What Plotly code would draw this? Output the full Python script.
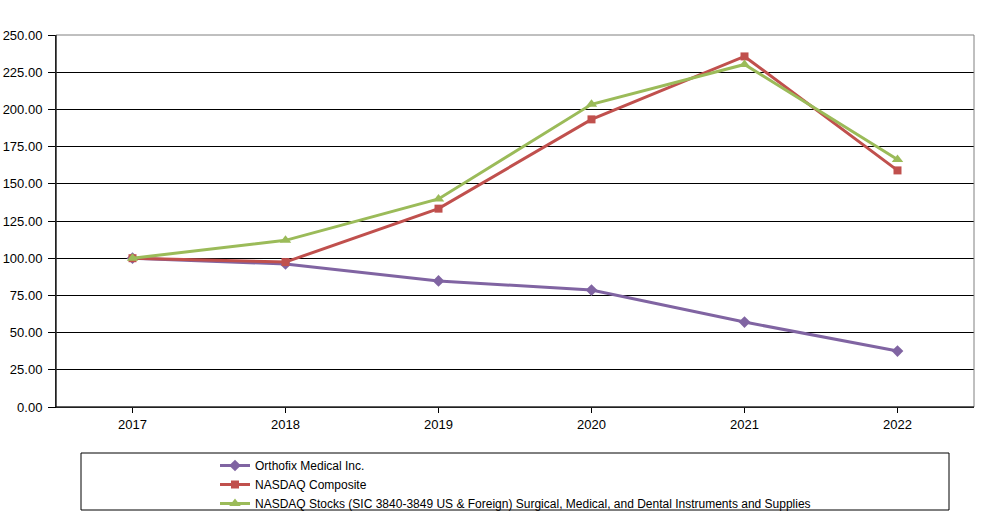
import plotly.graph_objects as go

years = ["2017", "2018", "2019", "2020", "2021", "2022"]
orthofix = [100.00, 96.1, 84.7, 78.6, 57.1, 37.6]
nasdaq = [100.00, 97.4, 133.3, 193.3, 235.6, 159.0]
peers = [100.00, 112.0, 139.8, 203.4, 230.2, 166.4]
y_ticks = [0, 25, 50, 75, 100, 125, 150, 175, 200, 225, 250]

series = [
    ("Orthofix Medical Inc.", orthofix, "#8064A2", "diamond", 9),
    ("NASDAQ Composite", nasdaq, "#C0504D", "square", 8),
    ("NASDAQ Stocks (SIC 3840-3849 US & Foreign) Surgical, Medical, and Dental Instruments and Supplies", peers, "#9BBB59", "triangle-up", 10),
]

fig = go.Figure()
for name, vals, color, sym, size in series:
    fig.add_trace(go.Scatter(
        x=years, y=vals, name=name, mode="lines+markers",
        line=dict(color=color, width=3),
        marker=dict(symbol=sym, size=size, color=color),
    ))

fig.update_layout(
    width=983, height=517,
    margin=dict(l=56, r=9, t=35, b=110, autoexpand=False),
    plot_bgcolor="white", paper_bgcolor="white",
    font=dict(family="Arial, Liberation Sans, sans-serif", size=12, color="black"),
    xaxis=dict(
        type="category", range=[-0.5, 5.5], automargin=False,
        showline=True, linecolor="black", linewidth=1,
        ticks="outside", ticklen=5, tickcolor="black",
        showgrid=False, tickfont=dict(size=13),
    ),
    yaxis=dict(
        range=[0, 250], tickvals=y_ticks, automargin=False,
        ticktext=[f"{v:.2f}" for v in y_ticks],
        showline=True, linecolor="black", linewidth=1,
        ticks="outside", ticklen=7, tickcolor="black",
        showgrid=True, gridcolor="black", gridwidth=1,
        zeroline=False, tickfont=dict(size=13), ticklabelstandoff=3,
    ),
    showlegend=True,
    legend=dict(
        x=(215 - 56) / 918, y=(407 - 451) / 372,
        xanchor="left", yanchor="top",
        bgcolor="rgba(0,0,0,0)", borderwidth=0,
        font=dict(family="Arial, Liberation Sans, sans-serif", size=12),
        tracegroupgap=0, itemwidth=30,
    ),
    shapes=[
        dict(type="rect", xref="paper", yref="paper", x0=0, x1=1, y0=0, y1=1,
             line=dict(color="#808080", width=1), layer="above"),
        dict(type="line", xref="paper", yref="paper", x0=0, x1=0, y0=0, y1=1,
             line=dict(color="black", width=1), layer="above"),
        dict(type="line", xref="paper", yref="paper", x0=0, x1=1, y0=0, y1=0,
             line=dict(color="black", width=1), layer="above"),
        dict(type="rect", xref="paper", yref="paper",
             x0=(81 - 56) / 918, x1=(949 - 56) / 918,
             y0=(407 - 510) / 372, y1=(407 - 453) / 372,
             line=dict(color="black", width=1), fillcolor="rgba(0,0,0,0)"),
    ],
)

fig.write_html(
    "out.html",
    config={"displayModeBar": False},
    post_script="document.body.style.margin='0';document.body.style.overflow='hidden';",
)
